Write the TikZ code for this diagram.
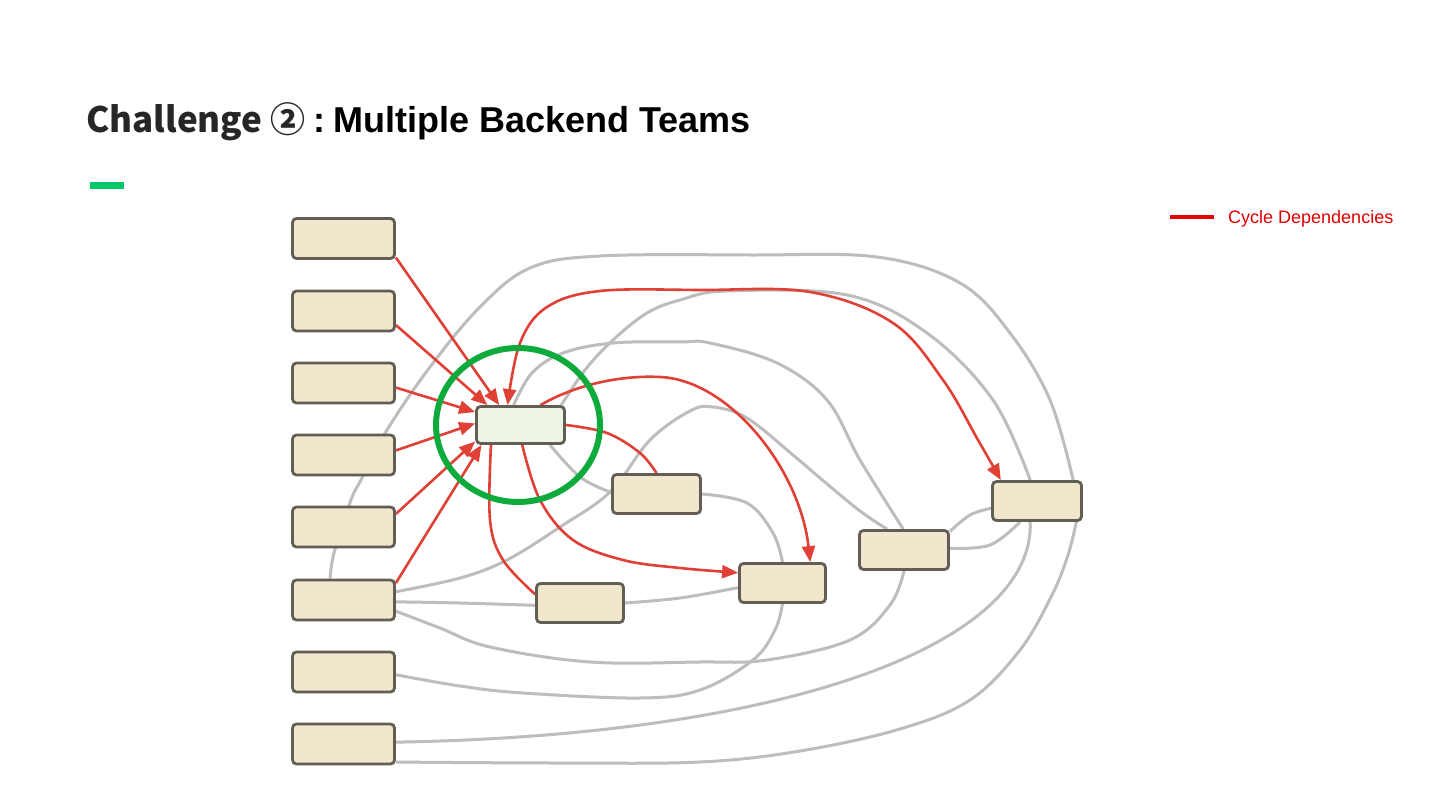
\documentclass[tikz,border=0pt]{standalone}
\usepackage{fontspec}
\setmainfont{Liberation Sans}
\newfontfamily\cjkfont{Noto Sans CJK KR}
\usetikzlibrary{arrows.meta}
\definecolor{nodefill}{HTML}{F1E7CD}
\definecolor{centerfill}{HTML}{EEF4E4}
\definecolor{nodeborder}{HTML}{625E55}
\definecolor{edgegray}{HTML}{BDBDBD}
\definecolor{edgered}{HTML}{DF4136}
\definecolor{ringgreen}{HTML}{0FAA3C}
\definecolor{bargreen}{HTML}{00C86A}
\definecolor{legendred}{HTML}{E00000}
\definecolor{titlegray}{HTML}{262626}
\pgfdeclarelayer{bg}
\pgfdeclarelayer{edges}
\pgfsetlayers{bg,edges,main}
\begin{document}
\begin{tikzpicture}[x=1pt,y=-1pt,
  box/.style={draw=nodeborder, fill=nodefill, line width=2.8pt, rounded corners=4pt, inner sep=0pt, minimum width=102pt, minimum height=40pt},
  hub/.style={box, fill=centerfill, minimum width=88pt, minimum height=37pt},
  svc/.style={box, minimum width=88pt, minimum height=39pt},
  grayedge/.style={draw=edgegray, line width=3pt},
  rededge/.style={draw=edgered, line width=2.6pt},
  redarrow/.style={rededge, -{Triangle[length=16pt,width=13pt]}},
  redboth/.style={rededge, {Triangle[length=16pt,width=13pt]}-{Triangle[length=16pt,width=13pt]}},
  sm/.style={smooth, tension=0.6}]
\begin{pgfonlayer}{bg}
\fill[white] (0,0) rectangle (1440,810);
\end{pgfonlayer}
\useasboundingbox (0,0) rectangle (1440,810);

% title
\node[anchor=base west, inner sep=0pt] (title1) at (86,133)
  {\fontsize{35}{40}\selectfont\cjkfont\bfseries\color{titlegray}Challenge ②};
\node[anchor=base west, inner sep=0pt] (title2) at (313,133)
  {\fontsize{36}{40}\selectfont\bfseries :\hspace{8pt}Multiple Backend Teams};
\fill[bargreen] (90,182) rectangle (124,189);

% legend
\coordinate (lg1) at (1170,217);
\coordinate (lg2) at (1214,217);
\draw[legendred, line width=4pt] (lg1) -- (lg2);
\node[anchor=west, inner sep=0pt, text=legendred, font=\fontsize{18}{20}\selectfont] (lgt) at (1228,218.5) {Cycle Dependencies};

% nodes
\node[box] (L1) at (343.5,238.5) {};
\node[box] (L2) at (343.5,311) {};
\node[box] (L3) at (343.5,383) {};
\node[box] (L4) at (343.5,455) {};
\node[box] (L5) at (343.5,527) {};
\node[box] (L6) at (343.5,600) {};
\node[box] (L7) at (343.5,672) {};
\node[box] (L8) at (343.5,744) {};
\node[hub] (C) at (520.5,425) {};
\node[svc] (A) at (656.5,494) {};
\node[svc, minimum width=87pt] (B) at (580,603) {};
\node[svc, minimum width=86pt] (D) at (782.5,583) {};
\node[svc, minimum width=89pt] (E) at (904,550) {};
\node[svc, minimum width=89pt] (F) at (1037,501) {};

\begin{pgfonlayer}{edges}
% gray edges
\draw[grayedge] plot[sm] coordinates {(L6.122) (334,553) (351,500) (362,478) (387,430) (430,367) (480,307) (530,268) (600,256) (750,255) (877,257) (960,283) (1010,333) (1050,400) (F.30)};
\draw[grayedge] plot[sm] coordinates {(C.26) (585,370) (613,340) (647,313) (680,300) (727,291) (847,295) (927,333) (993,400) (F.108)};
\draw[grayedge] plot[sm] coordinates {(C.109) (532,373) (563,353) (613,343) (680,342) (710,343) (777,363) (827,400) (860,460) (E.92)};
\draw[grayedge] plot[sm] coordinates {(L6.9) (460,578) (507,560) (560,527) (610,492) (650,440) (690,411) (713,407) (747,418) (793,455) (820,478) (860,511) (E.129)};
\draw[grayedge] plot[sm] coordinates {(C.-34) (580,477) (A.178)};
\draw[grayedge] plot[sm] coordinates {(A.east) (747,503) (773,533) (D.north)};
\draw[grayedge] plot[sm] coordinates {(L6.-2) (460,603) (B.183)};
\draw[grayedge] plot[sm] coordinates {(B.east) (680,598) (D.186)};
\draw[grayedge] plot[sm] coordinates {(L6.-12) (440,628) (490,647) (590,662) (700,662) (767,660) (850,640) (890,605) (E.south)};
\draw[grayedge] plot[sm] coordinates {(L7.-3) (460,686) (523,693) (640,698) (700,690) (753,660) (775,630) (D.south)};
\draw[grayedge] (L8.2) .. controls (800,735) and (1035,640) .. (F.252);
\draw[grayedge] plot[sm] coordinates {(L8.-19) (557,763) (700,762) (800,751) (900,729) (970,700) (1020,650) (1052,595) (1068,555) (F.-28)};
\draw[grayedge] plot[sm] coordinates {(E.22) (970,515) (F.189)};
\draw[grayedge] plot[sm] coordinates {(E.2) (990,545) (F.231)};
% red edges
\draw[redarrow] (L1.-20) -- (C.137);
\draw[redarrow] (L2.-15) -- (C.149);
\draw[redarrow] (L3.-5) -- (C.164);
\draw[redarrow] (L4.5) -- (C.178);
\draw[redarrow] (L5.14) -- (C.200);
\draw[redarrow] (L6.18) -- (C.207);
\draw[redboth] plot[sm] coordinates {(F.150) (978,440) (943,380) (893,323) (810,292) (700,290) (600,291) (547,307) (520,343) (C.123)};
\draw[redarrow] (C.45) .. controls (575,385) and (620,375) .. (660,377) .. controls (730,380) and (800,470) .. (D.37);
\draw[rededge] plot[sm] coordinates {(C.east) (607,433) (640,453) (A.north)};
\draw[rededge] plot[sm] coordinates {(C.214) (490,520) (503,560) (B.169)};
\draw[redarrow] plot[sm] coordinates {(C.-85) (540,500) (573,540) (623,560) (680,568) (D.167)};
% focus ring
\draw[ringgreen, line width=6pt] (518,425) ellipse [x radius=82pt, y radius=77pt];
\end{pgfonlayer}
\end{tikzpicture}
\end{document}
